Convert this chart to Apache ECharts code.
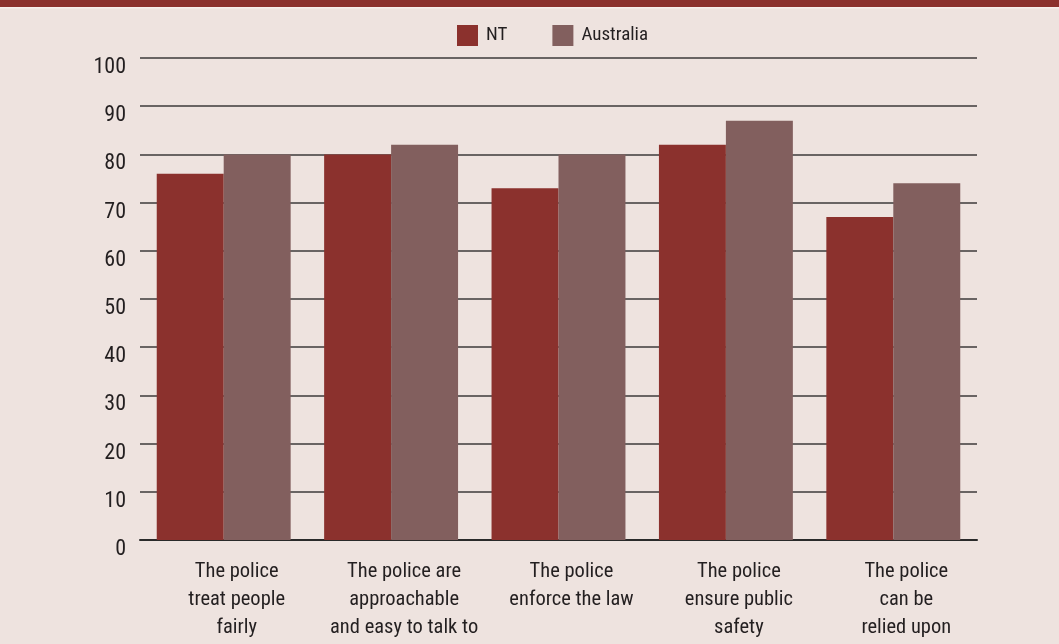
<!DOCTYPE html>
<html>
<head>
<meta charset="utf-8">
<script src="https://cdn.jsdelivr.net/npm/echarts@6/dist/echarts.min.js"></script>
<style>
  html, body { margin: 0; padding: 0; background: #EEE3DF; }
  #chart { width: 1059px; height: 644px; }
</style>
</head>
<body>
<div id="chart"></div>
<script>
// Perceptions of police: NT versus Australia (%)
const categories = [
  'The police\ntreat people\nfairly',
  'The police are\napproachable\nand easy to talk to',
  'The police\nenforce the law',
  'The police\nensure public\nsafety',
  'The police\ncan be\nrelied upon'
];
const ntValues = [76, 80, 73, 82, 67];
const australiaValues = [80, 82, 80, 87, 74];
const yTicks = { min: 0, max: 100, interval: 10 };

const FONT = '"Liberation Sans Narrow", "Roboto Condensed", "Liberation Sans", sans-serif';
const TEXT = '#231f20';

const chart = echarts.init(document.getElementById('chart'), null, { renderer: 'canvas' });
chart.setOption({
  backgroundColor: '#EEE3DF',
  animation: false,
  graphic: [
    { type: 'rect', left: 0, top: 0, shape: { width: 1059, height: 7 }, style: { fill: '#8B312D' } },
    { type: 'rect', left: 0, top: 7, shape: { width: 1059, height: 1.5 }, style: { fill: '#F7EFEC' } }
  ],
  legend: {
    top: 25,
    left: 457,
    padding: 0,
    itemWidth: 21,
    itemHeight: 21,
    itemGap: 45,
    icon: 'rect',
    textStyle: { fontFamily: FONT, fontSize: 19, color: TEXT, padding: [0, 0, 0, 3] },
    data: ['NT', 'Australia']
  },
  grid: { left: 140, right: 82, top: 58, bottom: 104, containLabel: false },
  xAxis: {
    type: 'category',
    data: categories,
    axisLine: { show: true, lineStyle: { color: '#2a2a2a', width: 2 } },
    axisTick: { show: false },
    axisLabel: {
      interval: 0,
      margin: 18,
      fontFamily: FONT,
      fontSize: 20.5,
      lineHeight: 28,
      color: TEXT,
      align: 'center',
      padding: [0, 0, 0, 26]
    }
  },
  yAxis: {
    type: 'value',
    min: yTicks.min,
    max: yTicks.max,
    interval: yTicks.interval,
    axisLine: { show: false },
    axisTick: { show: false },
    axisLabel: {
      margin: 14, color: TEXT,
      formatter: '{v|{value}}',
      rich: { v: { fontFamily: FONT, fontSize: 22, color: TEXT, padding: [19, 0, 0, 0] } }
    },
    splitLine: { show: true, lineStyle: { color: '#3c3a3a', width: 1.6 } }
  },
  series: [
    {
      name: 'NT', type: 'bar', data: ntValues,
      barGap: '0%', barCategoryGap: '20%',
      itemStyle: { color: '#8B312D' }
    },
    {
      name: 'Australia', type: 'bar', data: australiaValues,
      barGap: '0%', barCategoryGap: '20%',
      itemStyle: { color: '#825F5E' }
    }
  ]
});
</script>
</body>
</html>
